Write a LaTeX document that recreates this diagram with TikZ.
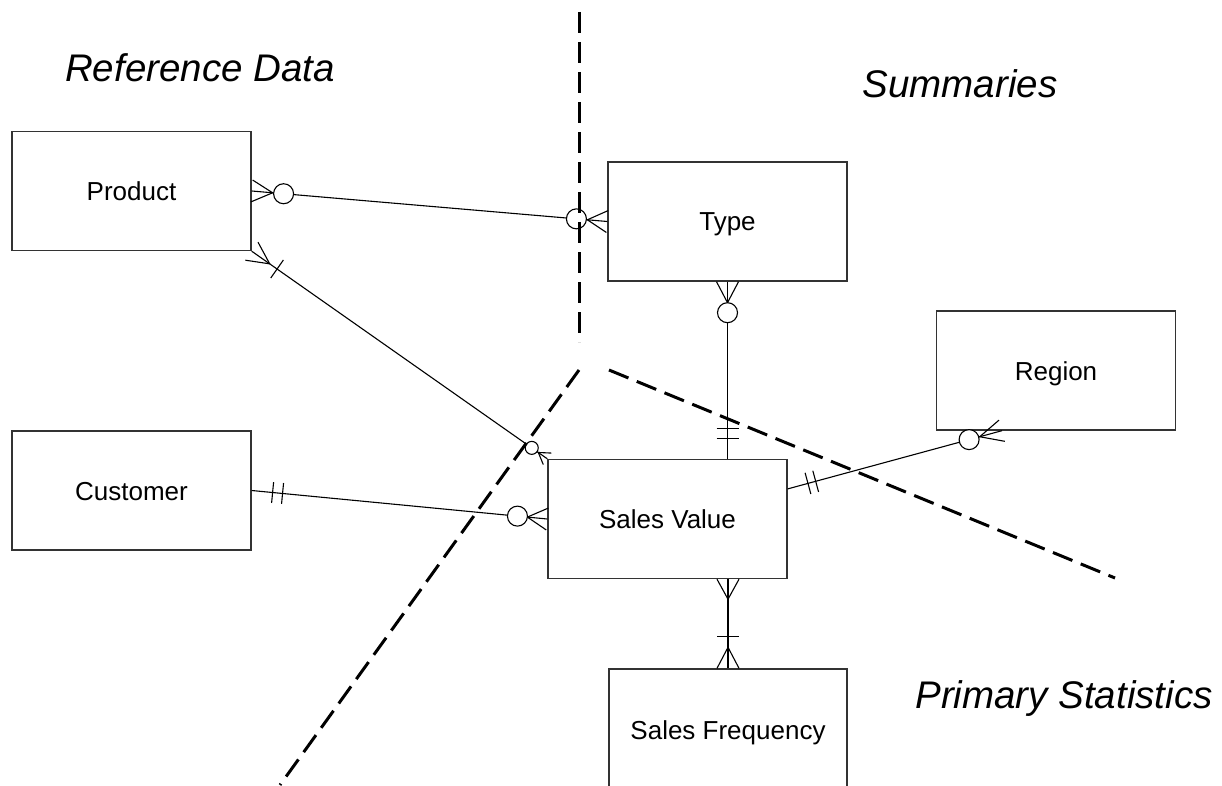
\documentclass[tikz,border=0pt]{standalone}
\usepackage{fontspec}
\setmainfont{Liberation Sans}
\usetikzlibrary{calc}
\newcommand{\ERcrow}[4]{%
  \draw[conn] ($(#1)!#4!90:(#2)$) -- ($(#1)!#3!(#2)$) -- ($(#1)!#4!-90:(#2)$);}
\newcommand{\ERcirc}[4]{%
  \draw[conn,fill=white] ($(#1)!#3!(#2)$) circle (#4);}
\newcommand{\ERbar}[4]{%
  \coordinate (ERtmp) at ($(#1)!#3!(#2)$);
  \draw[conn] ($(ERtmp)!#4!90:(#2)$) -- ($(ERtmp)!#4!-90:(#2)$);}
\begin{document}
\begin{tikzpicture}[x=1pt,y=-1pt,
  box/.style={draw=black!80,line width=1.4pt,minimum width=239pt,minimum height=119pt,inner sep=0pt,font=\fontsize{26}{30}\selectfont,text height=19pt,text depth=0pt},
  conn/.style={line width=1.1pt,black},
  divider/.style={line width=3pt,dash pattern=on 21pt off 9pt},
  title/.style={font=\fontsize{38.5}{44}\selectfont\itshape,anchor=base,inner sep=0pt}]
\useasboundingbox (0,0) rectangle (1222,786);
\clip (0,0) rectangle (1222,786);
\fill[white] (0,0) rectangle (1222,786);

\node[box] (prod) at (131.5,191) {Product};
\node[box] (type) at (727.5,221.5) {Type};
\node[box] (reg) at (1056,370.5) {Region};
\node[box] (cust) at (131.5,490.5) {Customer};
\node[box] (sv) at (667.5,519) {Sales Value};
\node[box,minimum width=238pt,minimum height=121pt] (sf) at (728,729.5) {Sales Frequency};

% Product - Type
\draw[conn] (prod.east) -- (type.west);
\ERcrow{prod.east}{type.west}{21pt}{11pt}
\ERcirc{prod.east}{type.west}{32pt}{10pt}
\ERcrow{type.west}{prod.east}{20pt}{11pt}
\ERcirc{type.west}{prod.east}{31pt}{10pt}

% Product - Sales Value
\draw[conn] (prod.south east) -- (sv.north west);
\ERcrow{prod.south east}{sv.north west}{22pt}{11pt}
\ERbar{prod.south east}{sv.north west}{31pt}{11pt}
\ERcrow{sv.north west}{prod.south east}{11pt}{7pt}
\ERcirc{sv.north west}{prod.south east}{19pt}{6.5pt}

% Customer - Sales Value
\draw[conn] (cust.east) -- (sv.west);
\ERbar{cust.east}{sv.west}{21pt}{10.5pt}
\ERbar{cust.east}{sv.west}{31pt}{10.5pt}
\ERcrow{sv.west}{cust.east}{20pt}{11pt}
\ERcirc{sv.west}{cust.east}{30pt}{10pt}

% Type - Sales Value
\coordinate (tyB) at (type.south);
\coordinate (svT) at (type.south |- sv.north);
\draw[conn] (tyB) -- (svT);
\ERcrow{tyB}{svT}{21pt}{11pt}
\ERcirc{tyB}{svT}{31pt}{10pt}
\ERbar{svT}{tyB}{20pt}{11pt}
\ERbar{svT}{tyB}{30pt}{11pt}

% Sales Value - Region
\coordinate (svR) at ($(sv.north east)!0.25!(sv.south east)$);
\coordinate (regB) at ($(reg.south west)!0.275!(reg.south east)$);
\draw[conn] (svR) -- (regB);
\ERbar{svR}{regB}{21pt}{11pt}
\ERbar{svR}{regB}{29pt}{11pt}
\ERcrow{regB}{svR}{23pt}{11pt}
\ERcirc{regB}{svR}{34pt}{10pt}

% Sales Value - Sales Frequency
\coordinate (sfT) at (sf.north);
\coordinate (svB) at (sf.north |- sv.south);
\draw[conn] (svB) -- (sfT);
\ERcrow{svB}{sfT}{20pt}{11pt}
\ERbar{sfT}{svB}{32pt}{11pt}
\ERcrow{sfT}{svB}{21pt}{11pt}

% dividers
\coordinate (d1a) at (579,12);  \coordinate (d1b) at (579,342);
\coordinate (d2a) at (579,370); \coordinate (d2b) at (280,785);
\coordinate (d3a) at (609,370); \coordinate (d3b) at (1115,578);
\draw[divider] (d1a) -- (d1b);
\draw[divider] (d2a) -- (d2b);
\draw[divider] (d3a) -- (d3b);

% titles
\node[title] (t1) at (200,82) {Reference Data};
\node[title] (t2) at (960,98) {Summaries};
\node[title] (t3) at (1064,708) {Primary Statistics};
\end{tikzpicture}
\end{document}
